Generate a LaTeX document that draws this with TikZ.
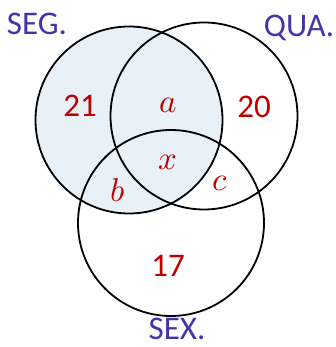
\documentclass[tikz,border=0pt]{standalone}
\usepackage{fontspec}
\usepackage{unicode-math}
\setmainfont{Carlito}
\setmathfont{Latin Modern Math}
\definecolor{setname}{RGB}{68,52,168}
\definecolor{count}{RGB}{192,0,0}
\definecolor{segfill}{RGB}{232,240,248}
\tikzset{
  setlabel/.style={setname,inner sep=0pt,font=\fontsize{33}{38}\selectfont},
  countlabel/.style={count,inner sep=0pt,font=\fontsize{33}{38}\selectfont},
}
\begin{document}
\begin{tikzpicture}[x=1pt,y=-1pt]
  \useasboundingbox (0,0) rectangle (335,347);
  \coordinate (Cseg) at (129,120);
  \coordinate (Cqua) at (204,116);
  \coordinate (Csex) at (171,223);
  \fill[segfill] (Cseg) circle (93.5);
  \draw[line width=1.8pt] (Cseg) circle (93.5);
  \draw[line width=1.8pt] (Cqua) circle (93.5);
  \draw[line width=1.8pt] (Csex) circle (93);
  \node[setlabel,anchor=base] (seg) at (37,35) {SEG.};
  \node[setlabel,anchor=base] (qua) at (299,37) {QUA.};
  \node[setlabel,anchor=base] (sex) at (177,339) {SEX.};
  \node[countlabel,anchor=base] (n21) at (80,117) {21};
  \node[countlabel,anchor=base] (n20) at (254,118) {20};
  \node[countlabel,anchor=base] (n17) at (168,276) {17};
  \node[countlabel,anchor=base] (na) at (168,113) {$a$};
  \node[countlabel,anchor=base] (nx) at (168,170) {$x$};
  \node[countlabel,anchor=base] (nb) at (118,201) {$b$};
  \node[countlabel,anchor=base] (nc) at (220,190) {$c$};
\end{tikzpicture}
\end{document}
